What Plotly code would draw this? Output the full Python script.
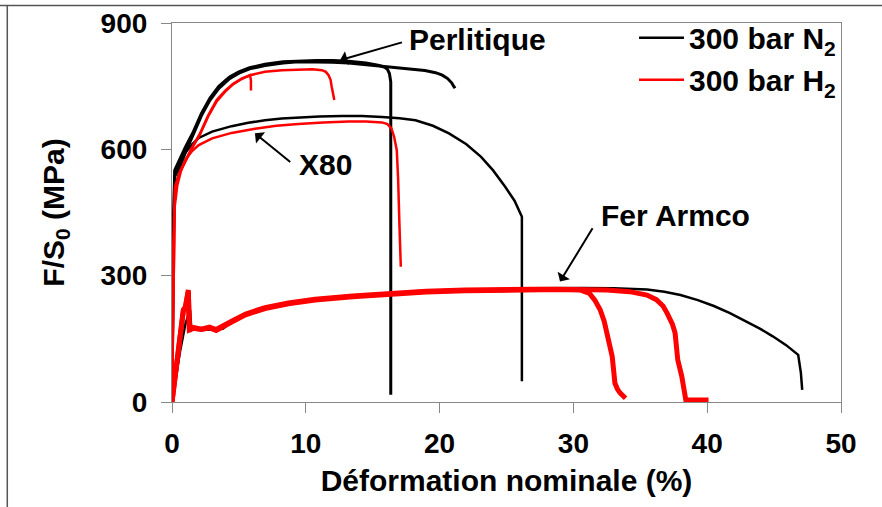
import plotly.graph_objects as go

# ---------------- data (strain %, stress MPa) ----------------
# Perlitique, 300 bar N2 (two tests)
perl_n2_a_x = [0, 0.1, 0.2, 0.6, 1.0, 1.6, 2.2, 2.84, 3.5, 4.3, 5.0, 5.8, 6.95, 8.3, 9.44, 10.8, 12.0, 13.2, 14.5, 15.4, 15.9, 16.1, 16.25, 16.35, 16.35]
perl_n2_a_y = [0, 400, 550, 578, 605, 642, 685, 722, 750, 772, 784, 794, 802, 808, 810, 811, 811, 809, 805, 800, 795, 790, 780, 760, 17]
perl_n2_b_x = [0, 0.1, 0.2, 0.6, 1.0, 1.6, 2.2, 2.84, 3.5, 4.3, 5.0, 5.8, 6.95, 8.3, 9.44, 10.8, 12.0, 13.2, 14.5, 15.7, 17.0, 18.2, 18.9, 19.7, 20.2, 20.6, 20.9, 21.05, 21.15]
perl_n2_b_y = [0, 380, 535, 565, 595, 636, 680, 717, 745, 768, 781, 791, 799, 805, 808, 808, 807, 805, 801, 796, 792, 790, 787, 782, 776, 768, 758, 750, 745]
# Perlitique, 300 bar H2 (two tests)
perl_h2_a_x = [0, 0.1, 0.22, 0.6, 1.0, 1.5, 2.1, 2.7, 3.34, 4.0, 4.58, 5.2, 5.83, 5.9, 5.9]
perl_h2_a_y = [0, 300, 511, 548, 575, 605, 638, 680, 717, 740, 756, 768, 776, 764, 740]
perl_h2_b_x = [0, 0.1, 0.22, 0.6, 1.0, 1.5, 2.1, 2.7, 3.34, 4.0, 4.58, 5.2, 5.83, 6.95, 8.2, 9.44, 10.5, 11.2, 11.5, 11.7, 11.85, 11.94, 12.05, 12.13]
perl_h2_b_y = [0, 290, 505, 545, 572, 603, 636, 678, 714, 738, 755, 767, 776, 784, 788, 790, 790, 788, 784, 776, 765, 748, 730, 717]
# X80
x80_n2_x = [0, 0.08, 0.17, 0.4, 0.7, 1.0, 1.5, 2.0, 3.0, 4.46, 5.7, 6.95, 8.2, 9.44, 11.0, 12.7, 14.2, 15.7, 17.0, 18.2, 19.5, 20.7, 22.0, 23.1, 24.0, 24.9, 25.6, 26.15, 26.15]
x80_n2_y = [0, 380, 470, 528, 566, 592, 612, 627, 642, 655, 663, 669, 673, 676, 678, 679, 679, 677, 674, 669, 656, 638, 612, 582, 550, 511, 478, 440, 49]
x80_h2_x = [0, 0.08, 0.17, 0.4, 0.7, 1.0, 1.5, 2.0, 3.0, 4.46, 6.2, 7.8, 9.44, 11.3, 13.2, 14.5, 15.7, 16.1, 16.4, 16.6, 16.8, 16.9, 17.0, 17.1]
x80_h2_y = [0, 360, 455, 515, 552, 575, 596, 610, 626, 639, 649, 656, 660, 664, 666, 666, 664, 660, 650, 630, 598, 530, 420, 321]
# Fer Armco
armco_n2_x = [0, 0.6, 1.0, 1.35, 1.45, 2.2, 3.0, 3.8, 4.46, 5.5, 6.95, 8.7, 10.7, 13.5, 16.4, 19.0, 21.9, 24.5, 26.9, 28.8, 30.6, 33.0, 35.5, 36.8, 38.0, 39.3, 40.5, 41.7, 42.9, 43.9, 44.9, 45.9, 46.8, 47.0, 47.1]
armco_n2_y = [0, 120, 185, 219, 172, 171, 172, 174, 191, 208, 223, 234, 243, 251, 258, 262, 266, 268, 270, 271, 271, 270, 267, 262, 254, 242, 228, 211, 192, 175, 156, 135, 112, 70, 29]
armco_h2_a_x = [0, 0.5, 0.85, 1.0, 1.22, 1.3, 1.6, 2.2, 2.8, 3.3, 3.6, 4.46, 5.5, 6.95, 8.7, 10.7, 13.5, 16.4, 19.0, 21.9, 24.5, 26.9, 28.8, 30.5, 31.2, 31.6, 32.0, 32.3, 32.5, 32.7, 32.9, 33.0, 33.1, 33.3, 33.5, 33.9]
armco_h2_a_y = [0, 130, 219, 226, 266, 171, 175, 172, 176, 170, 176, 190, 207, 222, 233, 242, 250, 257, 261, 264, 266, 267, 267, 266, 258, 242, 219, 192, 164, 136, 108, 78, 45, 30, 21, 9]
armco_h2_b_x = [0, 0.5, 0.85, 1.0, 1.22, 1.3, 1.6, 2.2, 2.8, 3.3, 3.6, 4.46, 5.5, 6.95, 8.7, 10.7, 13.5, 16.4, 19.0, 21.9, 24.5, 26.9, 28.8, 30.5, 32.5, 34.2, 35.5, 36.2, 36.7, 37.0, 37.4, 37.6, 37.7, 37.8, 38.1, 38.3, 38.4, 39.0, 40.1]
armco_h2_b_y = [0, 128, 217, 224, 262, 170, 177, 173, 178, 172, 178, 192, 209, 224, 235, 244, 252, 259, 263, 266, 268, 268, 268, 267, 266, 262, 254, 243, 228, 211, 185, 164, 130, 100, 61, 30, 5, 5, 5]

# axis ticks
x_ticks = [0, 10, 20, 30, 40, 50]
y_ticks = [0, 300, 600, 900]

BLACK = "#000000"
RED = "#ff0000"
FONT = "Liberation Sans, Arial, sans-serif"

fig = go.Figure()

def add(xs, ys, color, width, name, show):
    fig.add_trace(go.Scatter(
        x=xs, y=ys, mode="lines", name=name, legendgroup=name,
        showlegend=show, line=dict(color=color, width=width),
    ))

N2 = "300 bar N<sub>2</sub>"
H2 = "300 bar H<sub>2</sub>"
add(armco_n2_x, armco_n2_y, BLACK, 2.5, N2, True)
add(x80_n2_x, x80_n2_y, BLACK, 2.5, N2, False)
add(perl_n2_a_x, perl_n2_a_y, BLACK, 3, N2, False)
add(perl_n2_b_x, perl_n2_b_y, BLACK, 3, N2, False)
add(armco_h2_a_x, armco_h2_a_y, RED, 5, H2, False)
add(armco_h2_b_x, armco_h2_b_y, RED, 5, H2, False)
add(x80_h2_x, x80_h2_y, RED, 2.5, H2, False)
add(perl_h2_a_x, perl_h2_a_y, RED, 2.5, H2, False)
add(perl_h2_b_x, perl_h2_b_y, RED, 2.5, H2, True)

annots = [
    dict(text="Perlitique", x=22.8, y=860, ax=17.3, ay=855, head=(12.56, 812)),
    dict(text="X80", x=11.5, y=565, ax=8.95, ay=567, head=(6.2, 638)),
    dict(text="Fer Armco", x=37.6, y=444, ax=31.5, ay=416, head=(29.0, 286)),
]
for a in annots:
    fig.add_annotation(x=a["x"], y=a["y"], xref="x", yref="y", text=a["text"],
                       showarrow=False, font=dict(family=FONT, size=30, color="black", weight="bold"))
    fig.add_annotation(x=a["head"][0], y=a["head"][1], xref="x", yref="y",
                       ax=a["ax"], ay=a["ay"], axref="x", ayref="y", text="",
                       showarrow=True, arrowhead=1, arrowsize=1.2, arrowwidth=2, arrowcolor="black")

# outer frame (top and left edges)
fig.add_shape(type="line", xref="paper", yref="paper", x0=-0.26, x1=1.07, y0=1.046, y1=1.046,
              line=dict(color="#555555", width=1.5))
fig.add_shape(type="line", xref="paper", yref="paper", x0=-0.2462, x1=-0.2462, y0=1.046, y1=-0.3,
              line=dict(color="#555555", width=1.5))

axis_common = dict(showline=True, linecolor="#888888", linewidth=1.2, mirror=True,
                   ticks="outside", ticklen=10, tickcolor="#888888", tickwidth=1.2,
                   showgrid=False, zeroline=False, automargin=False,
                   tickfont=dict(family=FONT, size=28, color="black", weight="bold"))

fig.update_layout(
    width=882, height=507,
    margin=dict(l=172, r=41, t=23, b=105),
    paper_bgcolor="white", plot_bgcolor="white",
    xaxis=dict(range=[0, 50], tickvals=x_ticks, ticklabelstandoff=6,
               title=dict(text="Déformation nominale (%)", standoff=12,
                          font=dict(family=FONT, size=30, color="black", weight="bold")),
               **axis_common),
    yaxis=dict(range=[0, 900], tickvals=y_ticks, ticklabelstandoff=8,
               title=dict(text="F/S<sub>0</sub> (MPa)", standoff=27,
                          font=dict(family=FONT, size=30, color="black", weight="bold")),
               **axis_common),
    legend=dict(x=1.0, y=1.03, xanchor="right", yanchor="top", bgcolor="rgba(0,0,0,0)",
                font=dict(family=FONT, size=30, color="black", weight="bold"),
                itemwidth=45, tracegroupgap=0),
    showlegend=True,
)

fig.write_html("out.html", config={"displayModeBar": False},
               post_script="document.body.style.margin='0';")
